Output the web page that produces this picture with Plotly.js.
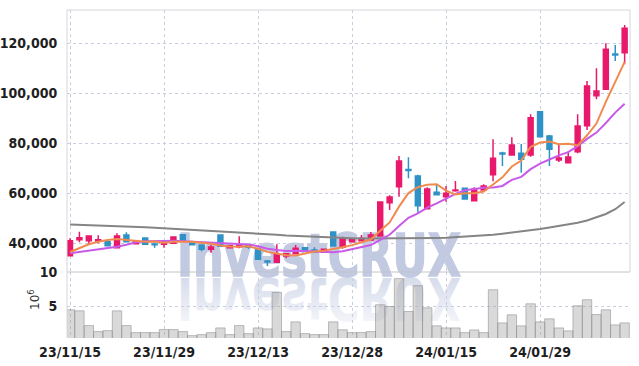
<!DOCTYPE html>
<html>
<head>
<meta charset="utf-8">
<script src="https://cdn.plot.ly/plotly-3.0.1.min.js"></script>
<style>html,body{margin:0;padding:0;background:#fff;}#chart{width:639px;height:366px;}</style>
</head>
<body>
<div id="chart"></div>
<script>
const dates = ["23/11/15","23/11/16","23/11/17","23/11/20","23/11/21","23/11/22","23/11/23","23/11/24","23/11/27","23/11/28",
"23/11/29","23/11/30","23/12/01","23/12/04","23/12/05","23/12/06","23/12/07","23/12/08","23/12/11","23/12/12",
"23/12/13","23/12/14","23/12/15","23/12/18","23/12/19","23/12/20","23/12/21","23/12/22","23/12/26","23/12/27",
"23/12/28","24/01/02","24/01/03","24/01/04","24/01/05","24/01/08","24/01/09","24/01/10","24/01/11","24/01/12",
"24/01/15","24/01/16","24/01/17","24/01/18","24/01/19","24/01/22","24/01/23","24/01/24","24/01/25","24/01/26",
"24/01/29","24/01/30","24/01/31","24/02/01","24/02/02","24/02/05","24/02/06","24/02/07","24/02/08","24/02/13"];

const openP  = [34900,41300,40900,40800,40500,38100,43200,39700,42000,39600,39500,39900,43300,40500,39200,37500,43200,38100,38500,38900,37600,32800,32300,34800,35700,38100,37200,36300,44400,38300,40500,40900,41200,42800,56100,62500,69400,66800,53700,60300,58500,60900,61900,56900,61200,67300,76000,75200,75900,75200,92500,82800,73200,72100,76500,86900,98900,101500,115600,116100];
const highP  = [41900,44500,43000,43100,41300,43900,44300,41000,42000,40300,40800,42600,43600,40800,39200,39200,43200,39200,42700,39200,37600,33200,39500,36000,39200,38400,38300,37700,44400,42500,42000,43200,44400,56400,59100,74800,74300,67300,62300,63500,62800,64800,62000,62300,63500,81500,76500,82300,79600,91500,92500,83200,79600,76700,91500,104800,109900,119900,119200,127200];
const lowP   = [34800,40300,39600,39900,38900,37900,40500,39500,39500,38100,38100,39700,40900,39300,36700,36100,38700,37900,37900,37700,33500,30800,32300,33900,35500,37200,36400,36200,38800,37700,40100,40700,41000,42800,53200,58500,65900,52100,53500,59200,56500,60500,57600,56800,61000,64700,70800,75000,68100,74500,82500,70800,72400,72000,75900,85200,97500,101300,112800,111500];
const closeP = [40900,42100,42800,41300,38900,42800,40500,40700,39500,39300,40500,42400,40900,39300,37500,38400,38700,38900,39200,38300,33500,32400,35600,35700,37900,37200,36400,37500,38800,41700,41300,41900,43200,56400,58400,72800,69000,54900,61600,59300,59900,61200,57600,61500,62800,73900,75600,79200,73500,90100,82500,77500,74000,74400,86800,102800,100800,117500,115200,125900];

const ma5  = [36400,38000,39500,40500,41216,41592,41272,40848,40480,40560,40104,40480,40528,40496,40128,39704,38960,38560,38536,38696,37712,36456,35792,35096,35016,35760,36560,36936,37552,38320,39144,40240,41384,44904,48240,54536,59960,62304,63344,63528,60944,59384,59920,59896,60592,63392,66272,70592,72992,78456,80184,80560,79520,79704,79040,83096,87760,96456,104616,112432];
const ma10 = [35900,36400,36900,37400,37900,38500,39300,40300,40700,40888,40848,40876,40688,40488,40344,39904,39720,39544,39516,39412,38708,37708,37176,36816,36856,36736,36508,36364,36324,36668,37452,38400,39160,41228,43280,46840,50100,51844,54124,55884,57740,59672,61112,61620,62060,62168,62828,65256,66444,69524,71788,73416,75056,76348,78748,81640,84160,87988,92160,95736];
const ma60 = [47400,47300,47200,47100,46900,46700,46600,46400,46300,46100,45900,45700,45600,45400,45200,45000,44800,44600,44400,44200,43900,43600,43300,43000,42800,42600,42400,42200,42100,42000,41900,41800,41800,41700,41700,41700,41700,41800,41900,42000,42100,42300,42500,42700,43000,43300,43700,44100,44500,45000,45600,46200,46800,47400,48100,49000,50200,51600,53500,56400];

const volume = [4.52,4.37,2.23,1.36,1.50,4.37,2.23,1.21,1.21,1.21,1.65,1.65,1.36,0.77,0.92,1.21,1.89,0.92,2.23,1.06,1.89,1.75,7.04,1.36,2.77,1.06,0.92,0.92,2.77,1.62,1.21,1.21,1.36,5.25,5.00,9.04,4.27,8.02,4.81,2.19,1.89,1.89,1.21,1.60,1.21,7.43,2.62,3.79,2.19,5.39,2.77,3.21,1.89,1.46,5.10,5.98,3.83,4.52,2.33,2.62];

const priceTicks = [40000,60000,80000,100000,120000];
const priceTickText = ["40,000","60,000","80,000","100,000","120,000"];
const xTickIdx = [0,10,20,30,40,50];
const volumeTitle = '10<sup>6</sup>';

const RED = '#e8196b', BLUE = '#2f92c7';
const FONT = 'Liberation Sans Narrow, DejaVu Sans Condensed, Arial Narrow, sans-serif';
const GRID = '#c9cde0';
const TICKFONT = {family:FONT, size:14, color:'#1e1e1e', weight:'bold'};

const traces = [
  {type:'bar', x:dates, y:volume, xaxis:'x', yaxis:'y',
   marker:{color:'rgba(165,165,165,0.42)', line:{color:'rgba(140,140,140,0.55)', width:1}}, hoverinfo:'skip'},
  {type:'scatter', mode:'lines', x:dates, y:ma60, xaxis:'x', yaxis:'y2',
   line:{color:'#858585', width:2}},
  {type:'scatter', mode:'lines', x:dates, y:ma10, xaxis:'x', yaxis:'y2',
   line:{color:'#c95ae9', width:2}},
  {type:'scatter', mode:'lines', x:dates, y:ma5, xaxis:'x', yaxis:'y2',
   line:{color:'#f08a4e', width:2}},
  {type:'candlestick', x:dates, open:openP, high:highP, low:lowP, close:closeP,
   xaxis:'x', yaxis:'y2', whiskerwidth:0,
   increasing:{line:{color:RED, width:1.5}, fillcolor:RED},
   decreasing:{line:{color:BLUE, width:1.5}, fillcolor:BLUE}}
];

const wmColor = '#c2cae2';
const svg = "<svg xmlns='http://www.w3.org/2000/svg' width='290' height='95' viewBox='0 0 290 95'>" +
  "<defs><linearGradient id='g' x1='0' y1='0' x2='0' y2='1'>" +
  "<stop offset='0' stop-color='" + wmColor + "' stop-opacity='0.1'/>" +
  "<stop offset='0.5' stop-color='" + wmColor + "' stop-opacity='0.45'/>" +
  "<stop offset='1' stop-color='" + wmColor + "' stop-opacity='0.8'/></linearGradient></defs>" +
  "<text x='2' y='46' font-family='DejaVu Sans, Liberation Sans, sans-serif' font-weight='bold' font-size='58' fill='" + wmColor + "' stroke='" + wmColor + "' stroke-width='1.5' textLength='284' lengthAdjust='spacingAndGlyphs'>InvestCRUX</text>" +
  "<g transform='translate(0,94) scale(1,-1)'><text x='2' y='46' font-family='DejaVu Sans, Liberation Sans, sans-serif' font-weight='bold' font-size='58' fill='url(#g)' textLength='284' lengthAdjust='spacingAndGlyphs'>InvestCRUX</text></g>" +
  "</svg>";
const wmSrc = 'data:image/svg+xml;charset=utf-8,' + encodeURIComponent(svg);

const split = (338-272)/328;

const layout = {
  width:639, height:366,
  margin:{l:67, r:9, t:10, b:28},
  paper_bgcolor:'#fff', plot_bgcolor:'#fff',
  showlegend:false, hovermode:false,
  bargap:0, boxgap:0.25,
  font:{family:FONT, size:14, color:'#222'},
  xaxis:{type:'category', range:[-0.32, 59.57], anchor:'y',
    tickmode:'array', tickvals:xTickIdx.map(i=>dates[i]), ticktext:xTickIdx.map(i=>dates[i]),
    showgrid:true, gridcolor:GRID, griddash:'dot', gridwidth:1,
    ticks:'outside', ticklen:1, tickcolor:'rgba(0,0,0,0)',
    tickfont:TICKFONT,
    rangeslider:{visible:false}, zeroline:false, showline:false, fixedrange:true},
  yaxis:{domain:[0, split], range:[0.43, 10], tickvals:[5,10], ticktext:['5','10'],
    showgrid:true, gridcolor:GRID, griddash:'dot', zeroline:false,
    ticks:'outside', ticklen:6, tickcolor:'rgba(0,0,0,0)',
    tickfont:TICKFONT},
  yaxis2:{domain:[split, 1], range:[28400, 133200], anchor:'x',
    tickmode:'array', tickvals:priceTicks, ticktext:priceTickText,
    showgrid:true, gridcolor:GRID, griddash:'dot', zeroline:false,
    ticks:'outside', ticklen:6, tickcolor:'rgba(0,0,0,0)',
    tickfont:TICKFONT},
  annotations:[{text:volumeTitle, xref:'paper', yref:'paper', x:-(67-34)/563, y:(338-300)/328,
    xanchor:'center', yanchor:'middle', textangle:-90, showarrow:false,
    font:{family:'DejaVu Sans, sans-serif', size:12, color:'#333'}}],
  images:[{source:wmSrc, xref:'paper', yref:'paper',
    x:(175-67)/563, y:(338-230)/328, sizex:290/563, sizey:95/328,
    xanchor:'left', yanchor:'top', sizing:'stretch', layer:'below', opacity:1}],
  shapes:[
    {type:'line', xref:'paper', yref:'paper', x0:0, x1:1, y0:split, y1:split, line:{color:'#c4c4c8', width:1}},
    {type:'line', xref:'paper', yref:'paper', x0:0, x1:1, y0:1, y1:1, line:{color:'#d6d6dc', width:1}},
    {type:'line', xref:'paper', yref:'paper', x0:0, x1:0, y0:0, y1:1, line:{color:'#d6d6dc', width:1}},
    {type:'line', xref:'paper', yref:'paper', x0:1, x1:1, y0:split, y1:1, line:{color:'#d6d6dc', width:1}}
  ]
};

Plotly.newPlot('chart', traces, layout, {staticPlot:true, displayModeBar:false});
</script>
</body>
</html>
